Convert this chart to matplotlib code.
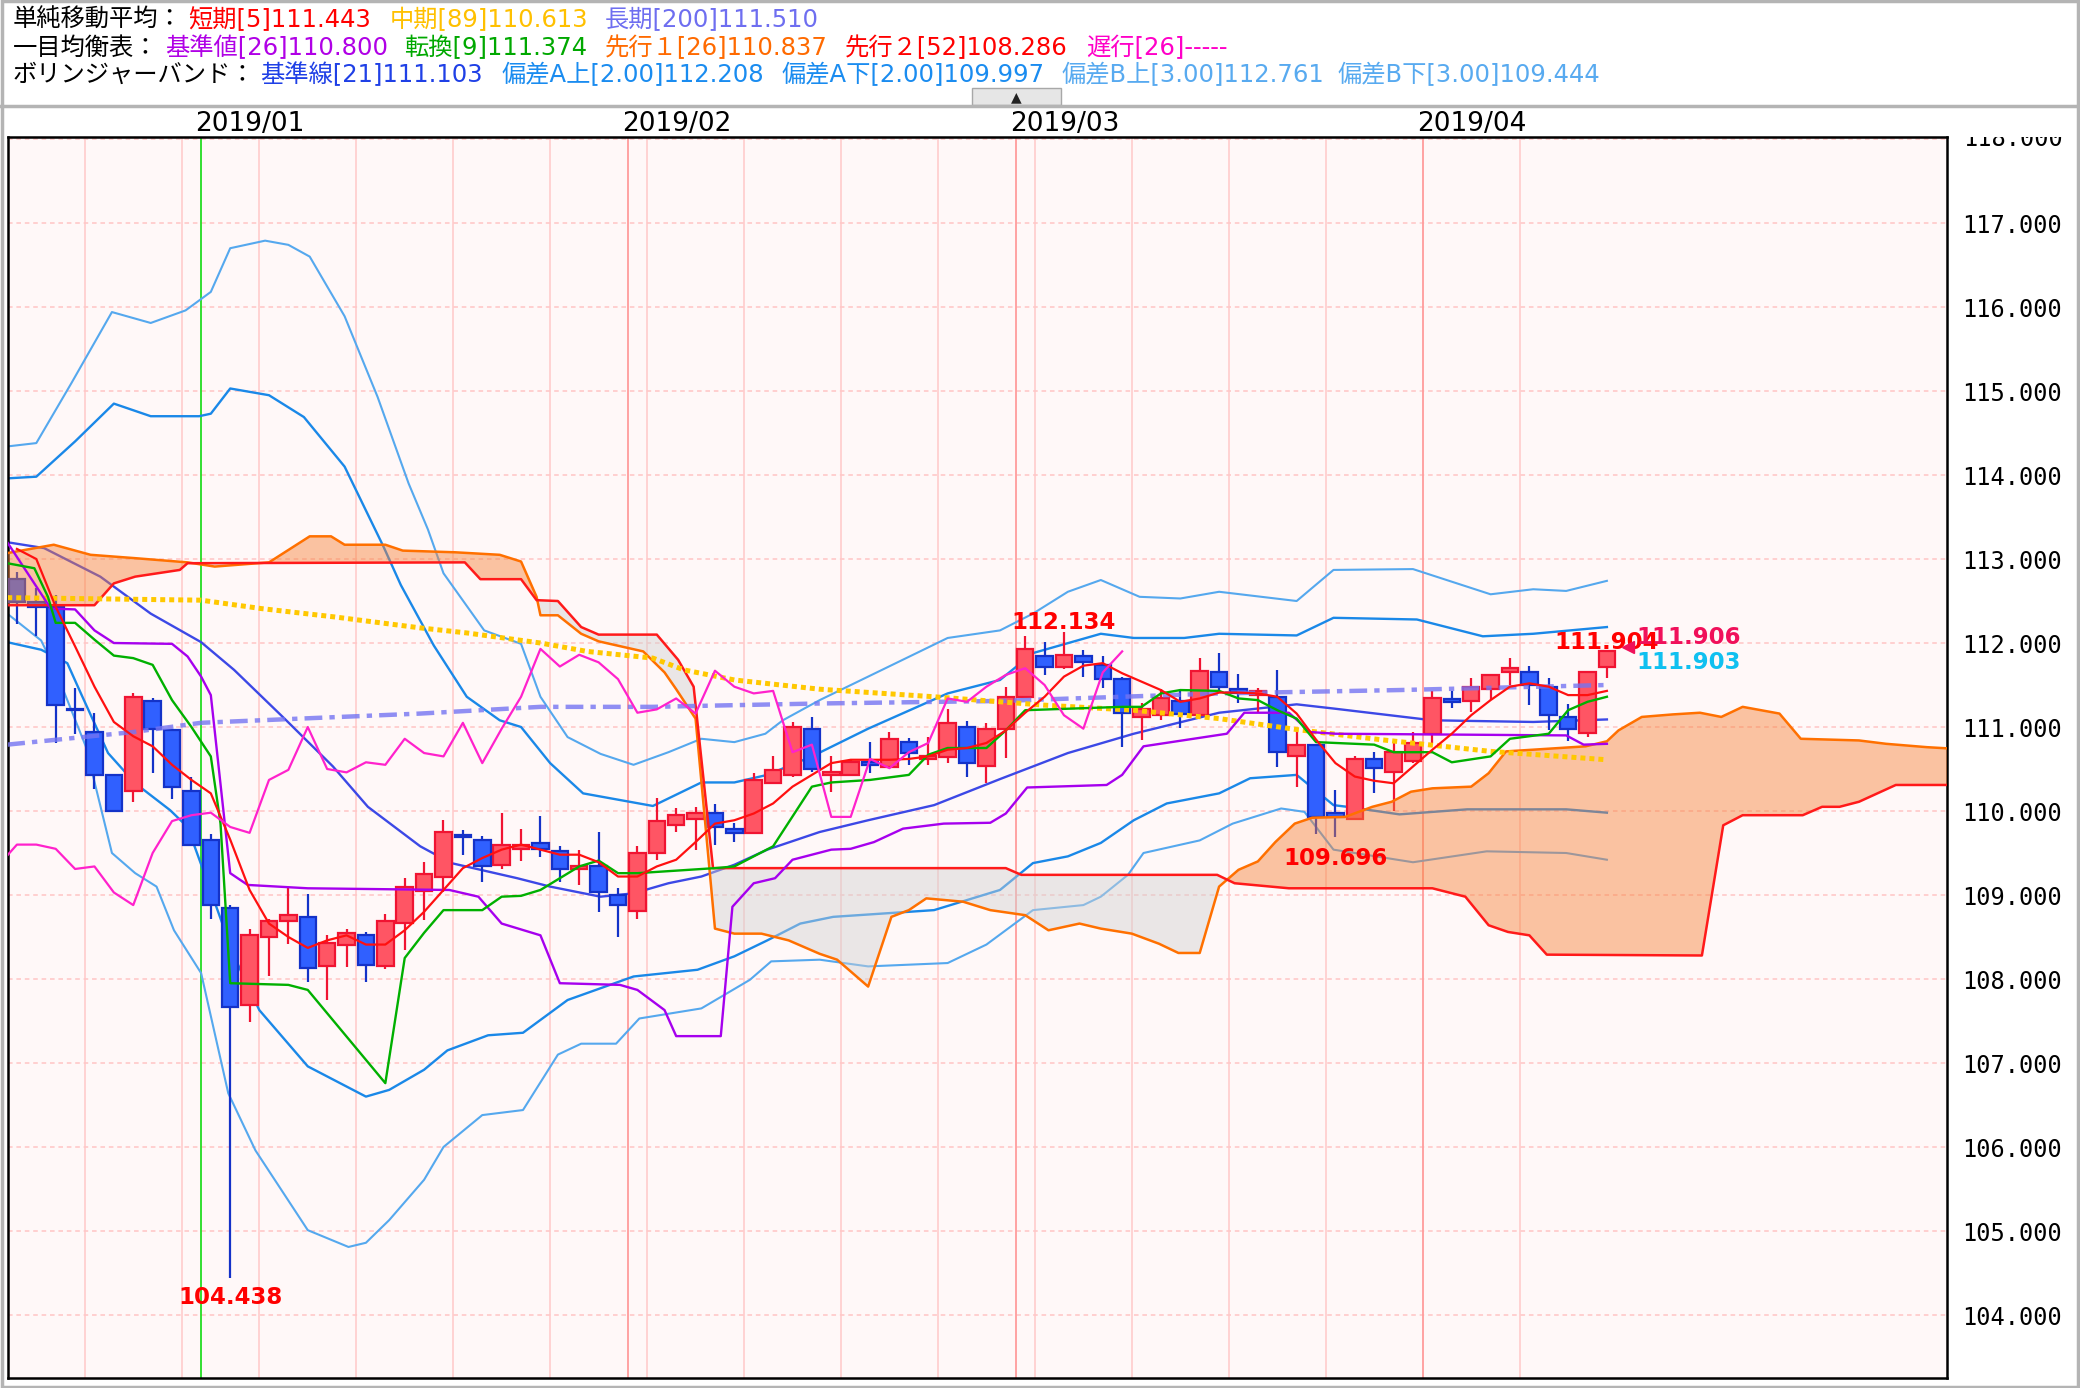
import numpy as np
import matplotlib
matplotlib.use("Agg")
import matplotlib.pyplot as plt
from matplotlib.patches import Rectangle
from matplotlib.transforms import Bbox, TransformedBbox, blended_transform_factory

plt.rcParams['font.family'] = ['Noto Sans CJK JP', 'DejaVu Sans']

# ---- daily candles, 2018/12/18 .. 2019/04/12 (index 0..82) ----
opens = [112.76, 112.49, 112.43, 111.22, 110.94, 110.43, 110.24, 111.31, 110.96, 110.24,
         109.65, 108.85, 107.69, 108.50, 108.69, 108.74, 108.15, 108.40, 108.52, 108.15,
         108.67, 109.05, 109.22, 109.72, 109.65, 109.36, 109.55, 109.62, 109.52, 109.31,
         109.34, 109.00, 108.81, 109.50, 109.83, 109.91, 109.98, 109.79, 109.74, 110.33,
         110.43, 110.98, 110.43, 110.43, 110.58, 110.52, 110.82, 110.62, 110.64, 111.00,
         110.53, 110.98, 111.36, 111.84, 111.72, 111.84, 111.74, 111.57, 111.12, 111.14,
         111.31, 111.14, 111.65, 111.45, 111.38, 111.36, 110.65, 110.79, 109.98, 109.91,
         110.62, 110.47, 110.59, 110.92, 111.33, 111.31, 111.45, 111.65, 111.65, 111.48,
         111.12, 110.93, 111.72]
highs = [112.85, 112.65, 112.57, 111.46, 111.17, 110.43, 111.41, 111.34, 110.98, 110.41,
         109.73, 108.88, 108.60, 108.72, 109.08, 109.01, 108.52, 108.60, 108.56, 108.77,
         109.20, 109.39, 109.89, 109.77, 109.70, 109.98, 109.79, 109.94, 109.58, 109.53,
         109.75, 109.08, 109.58, 110.15, 110.03, 110.05, 110.08, 109.86, 110.45, 110.65,
         111.06, 111.12, 110.65, 110.62, 110.82, 110.94, 110.87, 110.88, 111.21, 111.07,
         111.05, 111.48, 112.08, 112.01, 112.134, 111.92, 111.85, 111.60, 111.29, 111.45,
         111.45, 111.82, 111.88, 111.63, 111.46, 111.68, 110.96, 110.79, 110.25, 110.66,
         110.70, 110.83, 110.94, 111.43, 111.43, 111.58, 111.62, 111.82, 111.73, 111.58,
         111.27, 111.67, 111.904]
lows = [112.23, 112.08, 110.81, 110.92, 110.26, 110.00, 110.11, 110.45, 110.14, 109.60,
        108.71, 104.438, 107.49, 108.03, 108.42, 107.97, 107.75, 108.14, 107.97, 108.12,
        108.35, 108.70, 109.04, 109.48, 109.15, 109.31, 109.40, 109.45, 109.15, 109.12,
        108.80, 108.50, 108.71, 109.42, 109.75, 109.54, 109.60, 109.63, 109.74, 110.33,
        110.40, 110.46, 110.23, 110.43, 110.45, 110.52, 110.55, 110.55, 110.57, 110.41,
        110.33, 110.63, 111.36, 111.62, 111.69, 111.59, 111.47, 110.76, 110.85, 111.08,
        110.99, 111.14, 111.40, 111.28, 111.17, 110.52, 110.28, 109.73, 109.696, 109.91,
        110.21, 110.00, 110.57, 110.81, 111.23, 111.18, 111.32, 111.50, 111.26, 110.96,
        110.83, 110.88, 111.58]
closes = [112.49, 112.43, 111.26, 111.20, 110.43, 110.00, 111.36, 110.98, 110.28, 109.60,
          108.88, 107.67, 108.52, 108.69, 108.76, 108.13, 108.43, 108.55, 108.17, 108.69,
          109.10, 109.25, 109.75, 109.69, 109.34, 109.60, 109.60, 109.55, 109.31, 109.34,
          109.03, 108.88, 109.50, 109.88, 109.95, 109.98, 109.81, 109.74, 110.37, 110.49,
          111.00, 110.50, 110.46, 110.58, 110.55, 110.86, 110.69, 110.65, 111.05, 110.57,
          110.98, 111.36, 111.93, 111.72, 111.86, 111.77, 111.57, 111.17, 111.21, 111.34,
          111.16, 111.67, 111.48, 111.40, 111.43, 110.70, 110.79, 109.93, 109.93, 110.62,
          110.51, 110.70, 110.81, 111.34, 111.30, 111.48, 111.62, 111.70, 111.50, 111.14,
          110.98, 111.65, 111.90]

# ---- indicator lines (x = bar index, y = price) ----
sma5 = [113.12, 113.0, 112.43, 111.96, 111.48, 111.06, 110.89, 110.77, 110.55, 110.37,
        110.21, 109.66, 109.06, 108.66, 108.5, 108.37, 108.46, 108.52, 108.41, 108.41,
        108.58, 108.8, 109.06, 109.32, 109.44, 109.54, 109.6, 109.54, 109.48, 109.48,
        109.39, 109.22, 109.22, 109.34, 109.42, 109.63, 109.85, 109.89, 109.97, 110.09,
        110.29, 110.43, 110.57, 110.61, 110.61, 110.61, 110.62, 110.65, 110.73, 110.75,
        110.81, 110.96, 111.17, 111.36, 111.6, 111.73, 111.76, 111.64, 111.54, 111.44,
        111.30, 111.34, 111.41, 111.41, 111.40, 111.36, 111.16, 110.85, 110.57, 110.41,
        110.36, 110.33, 110.53, 110.73, 110.92, 111.14, 111.32, 111.48, 111.52, 111.48,
        111.38, 111.38, 111.43]

sma89_x = [-0.5, 9.5, 12.6, 16.4, 20.8, 23.2, 27, 29.4, 32.8, 34.4, 37, 41.4, 47.3, 53,
           57.6, 62, 66, 70.3, 76, 82]
sma89_y = [112.54, 112.51, 112.41, 112.31, 112.18, 112.12, 112.0, 111.9, 111.82, 111.68,
           111.56, 111.45, 111.36, 111.26, 111.2, 111.1, 110.97, 110.85, 110.71, 110.61]

sma200_x = [-0.5, 6, 9.5, 14.6, 20.8, 27, 32.8, 37, 41.4, 50.7, 62, 71.3, 82]
sma200_y = [110.79, 110.94, 111.05, 111.10, 111.16, 111.24, 111.24, 111.26, 111.28, 111.31,
            111.40, 111.44, 111.50]

kijun_x = [-0.5, 1.75, 3, 4, 5, 8, 8.8, 9.5, 10, 11, 11.9, 15, 22.3, 23.8, 25, 27, 28, 31.1,
           32, 33.4, 34, 36.3, 36.9, 38, 39.1, 40, 42, 43, 44.2, 45.7, 47.8, 50.2, 51, 52.1,
           56.2, 57, 58.1, 62.4, 63.3, 65.6, 66.7, 68, 79.9, 80.8, 82]
kijun_y = [113.2, 112.41, 112.40, 112.15, 112.0, 111.99, 111.84, 111.6, 111.38, 109.26,
           109.12, 109.08, 109.06, 108.98, 108.66, 108.52, 107.95, 107.93, 107.87, 107.63,
           107.32, 107.32, 108.86, 109.14, 109.2, 109.42, 109.54, 109.55, 109.63, 109.79,
           109.85, 109.86, 109.97, 110.28, 110.31, 110.43, 110.77, 110.92, 111.17, 111.17,
           110.94, 110.92, 110.90, 110.79, 110.80]

tenkan_x = [-0.5, 0.9, 1.6, 2, 3, 4, 5, 6, 7, 8, 9, 10, 10.5, 11, 14, 15, 19, 20, 21, 22, 24,
            25, 26, 27, 29, 30, 31, 32, 36, 37, 39, 41, 42, 44, 46, 47, 48, 50, 51, 52, 57,
            58, 59, 60, 62, 63, 64, 65, 66, 67, 68, 70, 71, 73, 74, 76, 77, 79, 80, 81, 82]
tenkan_y = [112.95, 112.89, 112.55, 112.24, 112.24, 112.04, 111.85, 111.82, 111.74, 111.32,
            111.0, 110.65, 109.85, 107.95, 107.93, 107.87, 106.76, 108.25, 108.55, 108.82,
            108.82, 108.98, 108.99, 109.06, 109.34, 109.41, 109.26, 109.26, 109.32, 109.34,
            109.58, 110.29, 110.34, 110.37, 110.43, 110.67, 110.75, 110.75, 110.96, 111.20,
            111.24, 111.24, 111.40, 111.44, 111.43, 111.34, 111.32, 111.20, 111.10, 110.82,
            110.81, 110.79, 110.70, 110.70, 110.58, 110.65, 110.86, 110.92, 111.20, 111.30,
            111.36]

spanA_x = [-0.5, 1.9, 3.8, 6.1, 8.8, 10.2, 13, 15.1, 16.2, 16.9, 19, 19.9, 22.6, 24.9, 26,
           26.8, 27, 27.9, 29.1, 30, 32.3, 33.4, 34, 35, 36, 37, 38.4, 39.8, 41.4, 42.3, 43.9,
           45.1, 46, 46.9, 48.8, 50.2, 52, 53.2, 54.8, 55.9, 57.5, 58.9, 59.9, 61, 62, 63, 64,
           64.9, 65.9, 66.8, 68.5, 69.9, 70.9, 71.9, 73, 75, 75.9, 76.8, 78.2, 80.9, 82,
           82.6, 83.8, 85.4, 86.8, 87.9, 89, 90.9, 92, 95, 96.4, 98.5, 100]
spanA_y = [113.07, 113.17, 113.05, 113.01, 112.96, 112.91, 112.96, 113.27, 113.27, 113.17,
           113.17, 113.10, 113.08, 113.05, 112.97, 112.55, 112.33, 112.33, 112.11, 112.02,
           111.90, 111.65, 111.45, 111.10, 108.60, 108.54, 108.54, 108.46, 108.30, 108.23,
           107.91, 108.74, 108.82, 108.96, 108.92, 108.82, 108.76, 108.58, 108.66, 108.60,
           108.54, 108.42, 108.31, 108.31, 109.10, 109.30, 109.40, 109.63, 109.85, 109.92,
           109.93, 110.05, 110.11, 110.23, 110.27, 110.29, 110.45, 110.71, 110.73, 110.77,
           110.83, 110.96, 111.12, 111.15, 111.17, 111.12, 111.24, 111.16, 110.86, 110.84,
           110.80, 110.76, 110.74]

spanB_x = [-0.5, 4, 5, 6.1, 8.4, 8.8, 23.1, 23.9, 26, 26.8, 27.9, 29.1, 30, 33, 34.1, 34.9,
           35.9, 51, 51.8, 61.9, 62.8, 65.6, 73, 74.7, 75.9, 76.9, 78, 78.9, 86.9, 88, 89,
           92.1, 93.1, 94, 95, 96.9, 100]
spanB_y = [112.45, 112.45, 112.71, 112.79, 112.87, 112.95, 112.96, 112.76, 112.76, 112.51,
           112.50, 112.19, 112.10, 112.10, 111.80, 111.48, 109.32, 109.32, 109.24, 109.24,
           109.14, 109.08, 109.08, 108.98, 108.64, 108.56, 108.52, 108.29, 108.28, 109.83,
           109.95, 109.95, 110.05, 110.05, 110.11, 110.31, 110.31]

bb_mid_x = [-0.5, 1.4, 4.3, 6.9, 9.5, 11.2, 13.8, 16.3, 18.1, 20.8, 22.4, 25.8, 27.5, 30.1,
            31.8, 33.6, 35.3, 37, 38.7, 41.4, 43.9, 47.3, 50.7, 54.2, 57.6, 62, 66, 67.9,
            73, 78.2, 82]
bb_mid_y = [113.2, 113.13, 112.79, 112.35, 112.01, 111.68, 111.10, 110.53, 110.05, 109.58,
            109.38, 109.2, 109.1, 108.98, 109.02, 109.14, 109.22, 109.36, 109.54, 109.75,
            109.89, 110.07, 110.38, 110.69, 110.92, 111.17, 111.27, 111.22, 111.08, 111.06,
            111.09]

bb_up2_x = [-0.5, 1, 3, 5, 6.9, 9.4, 10, 11, 13, 14.8, 16.9, 18.9, 19.8, 21.5, 23.2, 24.9,
            26, 27.5, 29.2, 32.8, 35.3, 37, 38.7, 41, 43.9, 48, 50.7, 52.4, 55.9, 57.6, 60.2,
            62, 66, 67.9, 72.2, 75.6, 78.2, 82]
bb_up2_y = [113.96, 113.98, 114.40, 114.85, 114.70, 114.70, 114.73, 115.03, 114.95, 114.69,
            114.10, 113.15, 112.69, 111.97, 111.36, 111.08, 111.0, 110.57, 110.21, 110.06,
            110.34, 110.34, 110.43, 110.65, 110.98, 111.40, 111.56, 111.88, 112.11, 112.06,
            112.06, 112.11, 112.09, 112.30, 112.28, 112.08, 112.11, 112.19]

bb_lo2_x = [-0.5, 1.25, 2.6, 3.3, 4.7, 6.1, 7.9, 8.8, 9.6, 11.2, 12.5, 15, 18, 19.2, 21,
            22.2, 24.3, 26.1, 28.4, 31.8, 35.1, 37, 38.7, 40.4, 42.1, 47.3, 50.7, 52.4, 54.2,
            55.9, 57.6, 59.3, 62, 63.6, 66, 67.9, 68.6, 71.3, 74.8, 79.9, 82]
bb_lo2_y = [112.01, 111.92, 111.76, 111.4, 110.69, 110.33, 110.01, 109.81, 109.30, 108.27,
            107.63, 106.96, 106.6, 106.68, 106.92, 107.15, 107.33, 107.36, 107.75, 108.03,
            108.11, 108.27, 108.46, 108.66, 108.74, 108.82, 109.06, 109.38, 109.46, 109.62,
            109.89, 110.09, 110.21, 110.39, 110.43, 110.07, 110.05, 109.96, 110.02, 110.02,
            109.98]

bb_up3_x = [-0.5, 1, 2.8, 4.9, 6.9, 8.7, 10, 11, 12.8, 14, 15.1, 16.9, 18.6, 20.2, 21.2, 22,
            24.1, 26, 27, 28.4, 30.1, 31.8, 33.6, 35.3, 37, 38.6, 39.5, 41.4, 43.9, 48, 50.7,
            52.4, 54.2, 55.9, 57.9, 60, 62, 66, 67.9, 72, 76, 78.2, 79.9, 82]
bb_up3_y = [114.34, 114.38, 115.09, 115.94, 115.81, 115.96, 116.18, 116.70, 116.79, 116.74,
            116.60, 115.89, 114.93, 113.90, 113.35, 112.83, 112.15, 111.99, 111.36, 110.88,
            110.68, 110.55, 110.70, 110.86, 110.82, 110.92, 111.08, 111.32, 111.60, 112.06,
            112.15, 112.35, 112.61, 112.75, 112.55, 112.53, 112.61, 112.50, 112.87, 112.88,
            112.58, 112.64, 112.62, 112.74]

bb_lo3_x = [-0.5, 1.25, 1.9, 2.6, 3.55, 4.9, 6.1, 7.2, 8.1, 9.5, 10.9, 12.3, 15, 17.1, 18,
            19.2, 21, 22, 24, 26.1, 27.9, 29.1, 30.9, 32.1, 35.3, 37.8, 38.9, 41.4, 43.9, 48,
            50, 52.4, 55, 55.9, 57.3, 58.1, 61, 62.7, 65.2, 66.4, 67.9, 72, 75.8, 79.9, 82]
bb_lo3_y = [112.35, 112.03, 111.72, 111.32, 110.77, 109.5, 109.26, 109.10, 108.58, 108.07,
            106.64, 105.96, 105.01, 104.81, 104.86, 105.13, 105.61, 106.0, 106.38, 106.44,
            107.10, 107.23, 107.23, 107.53, 107.65, 107.99, 108.21, 108.23, 108.15, 108.19,
            108.41, 108.82, 108.88, 108.98, 109.24, 109.50, 109.65, 109.85, 110.03, 109.99,
            109.54, 109.39, 109.52, 109.50, 109.42]

# vertical grid (bar boundaries): Mondays, first trading day of month, year start
week_lines = [3.5, 8.5, 12.5, 17.5, 22.5, 27.5, 32.5, 37.5, 42.5, 47.5, 52.5, 57.5, 62.5,
              67.5, 77.5]
month_lines = [31.5, 51.5, 72.5]
year_line = 9.5
month_labels = ["2019/01", "2019/02", "2019/03", "2019/04"]
month_label_pos = [9.5, 31.5, 51.5, 72.5]
price_ticks = list(range(104, 118))

# header legend rows: (text, colour, x pixel)
hdr_row1 = [("単純移動平均：", "#000000", 13), ("短期[5]111.443", "#ff0000", 188),
            ("中期[89]110.613", "#ffc000", 390), ("長期[200]111.510", "#6e6ef0", 605)]
hdr_row2 = [("一目均衡表：", "#000000", 13), ("基準値[26]110.800", "#b000e6", 165),
            ("転換[9]111.374", "#00a800", 404), ("先行１[26]110.837", "#ff6a00", 605),
            ("先行２[52]108.286", "#ff0000", 845), ("遅行[26]-----", "#ff00c8", 1086)]
hdr_row3 = [("ボリンジャーバンド：", "#000000", 13), ("基準線[21]111.103", "#1f40e6", 260),
            ("偏差A上[2.00]112.208", "#1a8cf0", 501), ("偏差A下[2.00]109.997", "#1a8cf0", 781),
            ("偏差B上[3.00]112.761", "#58aaf0", 1061), ("偏差B下[3.00]109.444", "#58aaf0", 1337)]

W, H = 2080, 1388
fig = plt.figure(figsize=(W / 100, H / 100), dpi=100)
fig.patch.set_facecolor("white")


def fx(px):
    return px / W


def fy(py):
    return 1 - py / H


ax = fig.add_axes([fx(8), fy(1378), fx(1947) - fx(8), fy(137) - fy(1378)])
ax.set_facecolor("#fff8f8")
ax.set_xlim(-0.46, 99.54)
ax.set_ylim(103.25, 118.024)

# grid
for p in range(104, 119):
    ax.axhline(p, color="#ffc4c4", lw=1.1, ls=(0, (3, 2.5)), zorder=1)
for v in week_lines:
    ax.axvline(v, color="#ffc8c8", lw=1.1, zorder=1)
for v in month_lines:
    ax.axvline(v, color="#ff9c9c", lw=1.3, zorder=1)
ax.axvline(year_line, color="#22dd22", lw=1.3, zorder=1)

# bollinger bands (under the cloud)
ax.plot(bb_up3_x, bb_up3_y, color="#55a8ee", lw=1.5, zorder=2)
ax.plot(bb_lo3_x, bb_lo3_y, color="#55a8ee", lw=1.5, zorder=2)
ax.plot(bb_up2_x, bb_up2_y, color="#1a88e8", lw=1.7, zorder=2)
ax.plot(bb_lo2_x, bb_lo2_y, color="#1a88e8", lw=1.7, zorder=2)
ax.plot(bb_mid_x, bb_mid_y, color="#3c48e6", lw=1.7, zorder=2)

# candles
idx = np.arange(len(closes))
o = np.array(opens)
c = np.array(closes)
up = c >= o
body_lo = np.minimum(o, c)
body_h = np.abs(c - o)
ax.vlines(idx[up], np.array(lows)[up], np.array(highs)[up], color="#f01432", lw=1.6, zorder=3)
ax.vlines(idx[~up], np.array(lows)[~up], np.array(highs)[~up], color="#1432c8", lw=1.6, zorder=3)
ax.bar(idx[up], body_h[up], bottom=body_lo[up], width=0.85, color="#ff5564",
       edgecolor="#f01432", lw=1.6, zorder=3.1)
ax.bar(idx[~up], body_h[~up], bottom=body_lo[~up], width=0.85, color="#3060ff",
       edgecolor="#1432c8", lw=1.6, zorder=3.1)

# ichimoku cloud
gx = np.union1d(spanA_x, spanB_x)
ga = np.interp(gx, spanA_x, spanA_y)
gb = np.interp(gx, spanB_x, spanB_y)
ax.fill_between(gx, ga, gb, where=ga >= gb, interpolate=True, color="#f68237",
                alpha=0.45, lw=0, zorder=4)
ax.fill_between(gx, ga, gb, where=ga < gb, interpolate=True, color="#d2d2d2",
                alpha=0.45, lw=0, zorder=4)
ax.plot(spanA_x, spanA_y, color="#ff7000", lw=1.8, zorder=5)
ax.plot(spanB_x, spanB_y, color="#ff1a1a", lw=1.8, zorder=5)

# moving averages
ax.plot(sma200_x, sma200_y, color="#7474f2", lw=3.2, ls=(0, (4, 1.6, 1.2, 1.6)),
        alpha=0.8, zorder=5)
ax.plot(sma89_x, sma89_y, color="#ffc800", lw=3.6, ls=(0, (1.0, 0.8)), zorder=5)
ax.plot(kijun_x, kijun_y, color="#a600ee", lw=1.7, zorder=6)
ax.plot(tenkan_x, tenkan_y, color="#00b000", lw=1.7, zorder=6)
ax.plot(idx, sma5, color="#ff1010", lw=1.6, zorder=6)
# lagging span: closes shifted back 25 bars
ax.plot(idx[24:] - 25, closes[24:], color="#ff22cc", lw=1.6, zorder=6)

# price labels
lab = dict(fontsize=16.5, fontweight="bold", family=["DejaVu Sans"], zorder=10)
ax.text(11, 104.21, "104.438", color="#ff0000", ha="center", va="center", **lab)
ax.text(54, 112.25, "112.134", color="#ff0000", ha="center", va="center", **lab)
ax.text(68, 109.44, "109.696", color="#ff0000", ha="center", va="center", **lab)
ax.text(82, 112.01, "111.904", color="#ff0000", ha="center", va="center", **lab)
ax.text(83.5, 112.06, "111.906", color="#f0105a", ha="left", va="center", **lab)
ax.text(83.5, 111.77, "111.903", color="#10c0f0", ha="left", va="center", **lab)
ax.plot([83.1], [111.95], marker="<", ms=9, color="#f0105a", zorder=10)

# axes cosmetics
for s in ax.spines.values():
    s.set_color("black")
    s.set_linewidth(1.8)
ax.set_xticks([])
ax.yaxis.tick_right()
ax.set_yticks(price_ticks)
ax.set_yticklabels([f"{t:.3f}" for t in price_ticks], family=["DejaVu Sans Mono"], fontsize=17)
ax.tick_params(axis="y", length=0, pad=11)

top_lbl = fig.text(fx(1963), fy(139), "118.000", family=["DejaVu Sans Mono"], fontsize=17,
                   va="center", ha="left")
top_lbl.set_clip_box(TransformedBbox(Bbox([[0, 0], [1, fy(137)]]), fig.transFigure))
top_lbl.set_clip_on(True)

trans = blended_transform_factory(ax.transData, ax.transAxes)
for name, pos in zip(month_labels, month_label_pos):
    ax.text(pos - 0.3, 1.0105, name, transform=trans, ha="left", va="center",
            fontsize=19, family=["DejaVu Sans"], clip_on=False)

# header legend (latin glyphs from DejaVu, kana/kanji fall back to Noto CJK)
for row, yy in zip([hdr_row1, hdr_row2, hdr_row3], [20, 48, 75]):
    for txt, col, xx in row:
        fig.text(fx(xx), fy(yy), txt, color=col, fontsize=17.5, va="center", ha="left",
                 family=["DejaVu Sans", "Noto Sans CJK JP"])

# collapse button
fig.patches.append(Rectangle((fx(972), fy(105)), fx(1061) - fx(972), fy(88) - fy(105),
                             transform=fig.transFigure, facecolor="#e6e6e6",
                             edgecolor="#a8a8a8", lw=1))
fig.text(fx(1016), fy(97), "▲", fontsize=10, color="#222222", ha="center", va="center",
         family=["DejaVu Sans"])

# outer frames
fig.patches.append(Rectangle((0.0008, 0.001), 0.9984, 0.998, transform=fig.transFigure,
                             fill=False, edgecolor="#b4b4b4", lw=2.5))
fig.add_artist(plt.Line2D([0, 1], [fy(106), fy(106)], transform=fig.transFigure,
                          color="#b4b4b4", lw=2.5))

fig.savefig("out.png", dpi=100)
